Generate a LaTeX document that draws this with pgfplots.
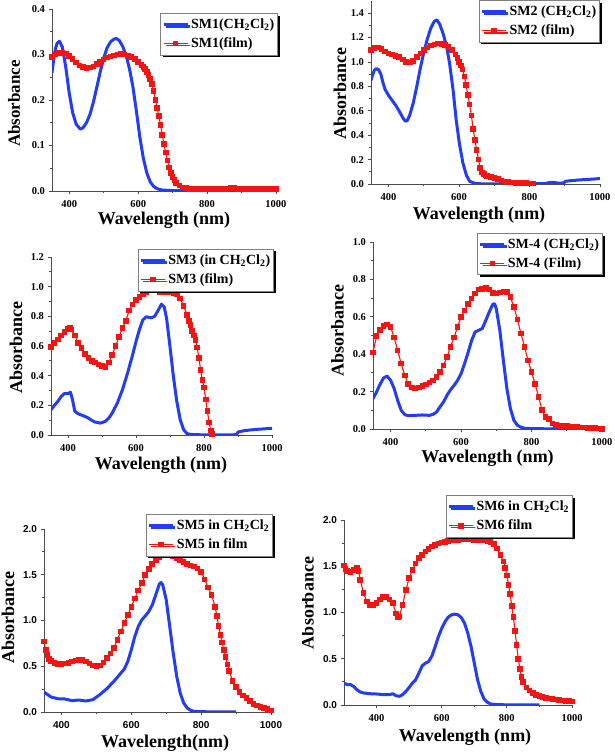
\documentclass[border=0pt]{standalone}
\usepackage{fontspec}
\setmainfont{Liberation Serif}
\newfontfamily\arialf{Liberation Sans}
\usepackage{pgfplots}
\pgfplotsset{compat=1.18}
\usetikzlibrary{shadows}
\definecolor{cblue}{RGB}{35,60,245}
\definecolor{cred}{RGB}{245,20,20}

\pgfplotsset{
  uvvis/.style={
    scale only axis, xmin=350, xmax=1000,
    axis x line*=bottom, axis y line*=left,
    axis line style={black!70, line width=0.8pt},
    tick style={black!70, line width=0.8pt},
    tick align=outside,
    major tick length=3.5pt, minor tick length=2pt,
    xtick={400,600,800,1000}, minor x tick num=1, minor y tick num=1,
    /pgf/number format/assume math mode=true,
    ticklabel style={font=\fontsize{10.5}{12}\selectfont\bfseries},
    yticklabel style={/pgf/number format/fixed, /pgf/number format/fixed zerofill, /pgf/number format/precision=1},
    xticklabel style={/pgf/number format/1000 sep={}, yshift=-2pt},
    legend cell align=left,
    legend style={font=\fontsize{14}{15}\selectfont\bfseries, draw=black!50, line width=0.6pt,
      fill=white, anchor=north east, inner xsep=1.5pt, inner ysep=3.5pt, row sep=4pt,
      drop shadow={fill=black, opacity=1, shadow xshift=2.2pt, shadow yshift=-2.2pt}},
    legend image code/.code={\draw[mark repeat=2, mark phase=2, #1] plot coordinates {(0pt,0pt) (12pt,0pt) (24pt,0pt)};},
  },
  sol/.style={cblue, line width=3pt, no marks, line join=round},
  flm/.style={cred, line width=1.1pt, mark=square*, mark size=2.3pt, mark options={solid, fill=cred, draw=cred, line width=0pt}},
}
\newcommand{\dcm}{CH\textsubscript{2}Cl\textsubscript{2}}

\begin{document}
\begin{tikzpicture}
% ---------- SM1 ----------
\begin{axis}[uvvis, at={(52pt,561pt)}, anchor=south west, width=224pt, height=182pt,
  ymin=0, ymax=0.4, ytick={0,0.1,0.2,0.3,0.4}, legend style={at={(1.009,0.978)}}]
\addplot[sol] coordinates {(350,0.26)(355,0.29)(360,0.313)(365,0.325)(372,0.329)(380,0.316)(390,0.272)(400,0.215)(410,0.172)(420,0.147)(432,0.136)(440,0.139)(450,0.150)(460,0.168)(470,0.195)(480,0.228)(490,0.262)(500,0.292)(510,0.315)(520,0.328)(530,0.334)(537,0.335)(545,0.331)(555,0.318)(565,0.298)(575,0.268)(585,0.228)(595,0.175)(605,0.118)(615,0.072)(625,0.040)(635,0.020)(645,0.010)(655,0.005)(670,0.002)(700,0.001)(800,0.001)};
\addlegendentry{SM1(\dcm)}
\addplot[flm] coordinates {(350,0.295)(360,0.300)(370,0.303)(380,0.304)(390,0.302)(400,0.297)(410,0.290)(420,0.282)(430,0.276)(440,0.272)(450,0.270)(460,0.271)(470,0.274)(480,0.279)(490,0.284)(500,0.289)(510,0.293)(520,0.296)(530,0.298)(540,0.300)(550,0.301)(560,0.300)(570,0.298)(580,0.295)(590,0.290)(600,0.284)(610,0.277)(615,0.273)(620,0.268)(625,0.262)(630,0.255)(635,0.246)(640,0.235)(645,0.220)(650,0.200)(655,0.182)(660,0.165)(665,0.145)(670,0.123)(675,0.103)(680,0.085)(685,0.067)(690,0.052)(695,0.040)(700,0.031)(705,0.024)(710,0.018)(720,0.012)(730,0.008)(740,0.006)(750,0.005)(760,0.005)(770,0.005)(780,0.005)(790,0.005)(800,0.005)(810,0.005)(820,0.005)(830,0.005)(840,0.005)(850,0.005)(860,0.005)(870,0.006)(880,0.007)(890,0.005)(900,0.005)(910,0.005)(920,0.005)(930,0.005)(940,0.005)(950,0.005)(960,0.004)(970,0.004)(980,0.004)(990,0.004)(1000,0.004)};
\addlegendentry{SM1(film)}
\end{axis}

% ---------- SM2 ----------
\begin{axis}[uvvis, at={(371pt,568pt)}, anchor=south west, width=229pt, height=183pt,
  ymin=0, ymax=1.5, ytick={0,0.2,0.4,0.6,0.8,1.0,1.2,1.4}, legend style={at={(1.0,1.005)}}]
\addplot[sol] coordinates {(350,0.85)(355,0.90)(360,0.935)(366,0.945)(372,0.935)(378,0.90)(384,0.83)(390,0.775)(400,0.725)(410,0.685)(420,0.645)(430,0.598)(440,0.545)(447,0.515)(453,0.52)(460,0.565)(470,0.665)(480,0.80)(490,0.95)(500,1.08)(510,1.19)(520,1.28)(530,1.335)(537,1.345)(545,1.31)(555,1.23)(565,1.12)(573,0.99)(583,0.77)(592,0.52)(601,0.33)(611,0.17)(621,0.07)(630,0.022)(645,0.005)(660,0.002)(700,0.001)(800,0.001)(845,0.004)(860,0.014)(870,0.012)(885,0.006)(898,0.01)(902,0.022)(920,0.028)(950,0.035)(980,0.040)(1000,0.045)};
\addlegendentry{SM2 (\dcm)}
\addplot[flm] coordinates {(350,1.10)(360,1.115)(370,1.12)(380,1.105)(390,1.085)(400,1.07)(410,1.06)(420,1.05)(430,1.04)(440,1.02)(450,1.00)(460,0.995)(470,1.01)(480,1.04)(490,1.07)(500,1.10)(510,1.12)(520,1.135)(530,1.145)(540,1.15)(550,1.148)(560,1.14)(570,1.125)(580,1.10)(590,1.06)(595,1.035)(600,1.00)(605,0.97)(610,0.94)(615,0.88)(620,0.81)(625,0.73)(630,0.65)(635,0.56)(640,0.45)(645,0.36)(650,0.28)(655,0.20)(660,0.13)(665,0.095)(670,0.08)(675,0.07)(680,0.065)(690,0.057)(700,0.05)(710,0.042)(720,0.03)(730,0.022)(740,0.015)(750,0.011)(760,0.009)(770,0.008)(780,0.007)(790,0.006)(800,0.005)(810,0.005)};
\addlegendentry{SM2 (film)}
\end{axis}

% ---------- SM3 ----------
\begin{axis}[uvvis, at={(51pt,317pt)}, anchor=south west, width=221pt, height=178pt,
  ymin=0, ymax=1.2, ytick={0,0.2,0.4,0.6,0.8,1.0,1.2}, legend style={at={(1.009,1.045)}}]
\addplot[sol] coordinates {(350,0.17)(360,0.20)(370,0.226)(380,0.26)(388,0.278)(395,0.28)(400,0.278)(407,0.289)(413,0.24)(420,0.16)(430,0.143)(440,0.134)(450,0.125)(460,0.114)(470,0.098)(480,0.087)(495,0.08)(510,0.092)(520,0.114)(530,0.148)(545,0.215)(560,0.304)(575,0.416)(590,0.54)(600,0.63)(610,0.71)(620,0.775)(630,0.797)(645,0.79)(655,0.80)(665,0.84)(675,0.882)(683,0.864)(690,0.786)(700,0.595)(710,0.394)(720,0.226)(730,0.103)(740,0.036)(750,0.009)(760,0.004)(780,0.002)(800,0.001)(850,0.0)(896,0.002)(900,0.02)(920,0.03)(950,0.037)(980,0.042)(1000,0.045)};
\addlegendentry{SM3 (in \dcm)}
\addplot[flm] coordinates {(350,0.595)(360,0.62)(370,0.645)(380,0.67)(390,0.695)(400,0.715)(405,0.72)(410,0.71)(420,0.67)(430,0.62)(440,0.585)(450,0.545)(460,0.52)(470,0.50)(480,0.49)(490,0.475)(500,0.465)(510,0.46)(520,0.49)(530,0.54)(540,0.60)(550,0.66)(560,0.72)(570,0.77)(580,0.84)(590,0.88)(600,0.91)(610,0.93)(620,0.95)(630,0.965)(640,0.985)(650,0.988)(660,0.975)(670,0.965)(680,0.96)(690,0.962)(700,0.963)(710,0.958)(720,0.95)(730,0.92)(740,0.87)(750,0.81)(755,0.77)(760,0.74)(765,0.70)(770,0.67)(775,0.64)(780,0.59)(785,0.52)(790,0.44)(795,0.37)(800,0.32)(805,0.24)(810,0.16)(815,0.085)(820,0.03)(824,0.005)};
\addlegendentry{SM3 (film)}
\end{axis}

% ---------- SM-4 ----------
\begin{axis}[uvvis, at={(373pt,323pt)}, anchor=south west, width=229pt, height=187pt,
  ymin=0, ymax=1.0, ytick={0,0.2,0.4,0.6,0.8,1.0}, legend style={at={(1.004,1.048)}}]
\addplot[sol] coordinates {(350,0.162)(360,0.198)(370,0.239)(380,0.273)(390,0.283)(400,0.26)(410,0.216)(420,0.153)(430,0.10)(440,0.077)(450,0.071)(470,0.073)(490,0.075)(510,0.073)(520,0.078)(530,0.09)(540,0.118)(550,0.144)(560,0.18)(570,0.21)(580,0.233)(590,0.26)(600,0.296)(610,0.35)(620,0.41)(630,0.474)(640,0.519)(650,0.528)(660,0.537)(670,0.58)(680,0.626)(690,0.667)(695,0.67)(700,0.643)(710,0.528)(720,0.367)(730,0.216)(740,0.109)(750,0.046)(760,0.02)(770,0.009)(780,0.004)(800,0.002)(850,0.001)(900,0.0)(1000,0.0)};
\addlegendentry{SM-4 (\dcm)}
\addplot[flm] coordinates {(350,0.41)(360,0.496)(370,0.528)(380,0.55)(390,0.558)(400,0.545)(410,0.49)(420,0.42)(430,0.35)(440,0.287)(450,0.242)(460,0.221)(470,0.216)(480,0.221)(490,0.23)(500,0.239)(510,0.248)(520,0.26)(530,0.278)(540,0.305)(550,0.34)(560,0.385)(570,0.44)(580,0.49)(590,0.545)(600,0.60)(610,0.634)(620,0.667)(630,0.697)(640,0.724)(650,0.745)(660,0.75)(670,0.754)(680,0.745)(690,0.727)(700,0.724)(710,0.729)(720,0.736)(730,0.732)(740,0.706)(750,0.652)(760,0.585)(770,0.51)(780,0.44)(790,0.367)(800,0.305)(810,0.242)(820,0.171)(830,0.10)(840,0.064)(850,0.053)(860,0.029)(870,0.02)(880,0.017)(890,0.016)(900,0.015)(910,0.013)(920,0.012)(930,0.011)(940,0.009)(950,0.008)(960,0.006)(970,0.005)(980,0.004)(990,0.002)(1000,0.0)};
\addlegendentry{SM-4 (Film)}
\end{axis}

% ---------- SM5 ----------
\begin{axis}[uvvis, at={(44pt,40pt)}, anchor=south west, width=227pt, height=183pt,
  ymin=0, ymax=2.0, ytick={0,0.5,1.0,1.5,2.0},
  ticklabel style={font=\fontsize{10}{12}\selectfont\arialf\bfseries},
  legend style={at={(1.009,1.082)}}]
\addplot[sol] coordinates {(350,0.218)(370,0.164)(390,0.145)(410,0.142)(430,0.124)(450,0.131)(470,0.12)(490,0.135)(510,0.19)(530,0.255)(550,0.335)(570,0.425)(580,0.47)(590,0.553)(600,0.68)(610,0.825)(620,0.935)(630,1.007)(640,1.05)(650,1.098)(660,1.17)(670,1.28)(680,1.396)(685,1.415)(690,1.39)(700,1.225)(710,0.935)(720,0.644)(730,0.39)(740,0.207)(750,0.098)(760,0.044)(770,0.018)(780,0.007)(800,0.003)(850,0.002)(900,0.0)};
\addlegendentry{SM5 in \dcm}
\addplot[flm] coordinates {(350,0.77)(355,0.68)(360,0.62)(365,0.58)(370,0.555)(380,0.535)(390,0.525)(400,0.522)(410,0.528)(420,0.538)(430,0.55)(440,0.562)(450,0.57)(460,0.568)(470,0.552)(480,0.53)(490,0.51)(500,0.50)(510,0.51)(520,0.54)(530,0.59)(540,0.64)(550,0.70)(560,0.79)(570,0.88)(580,0.97)(590,1.06)(600,1.15)(610,1.24)(620,1.33)(630,1.41)(640,1.50)(650,1.56)(660,1.62)(670,1.66)(680,1.69)(690,1.71)(700,1.72)(710,1.71)(720,1.70)(730,1.68)(740,1.66)(750,1.64)(760,1.62)(770,1.60)(780,1.59)(790,1.57)(800,1.53)(810,1.45)(820,1.36)(830,1.28)(840,1.15)(845,1.05)(850,0.94)(855,0.84)(860,0.76)(865,0.68)(870,0.60)(875,0.52)(880,0.45)(890,0.34)(900,0.27)(910,0.22)(920,0.18)(930,0.15)(940,0.12)(950,0.09)(960,0.07)(970,0.055)(980,0.045)(990,0.03)(1000,0.018)};
\addlegendentry{SM5 in film}
\end{axis}

% ---------- SM6 ----------
\begin{axis}[uvvis, at={(344pt,47pt)}, anchor=south west, width=228pt, height=185pt,
  xmin=300, ymin=0, ymax=2.0, ytick={0,0.5,1.0,1.5,2.0},
  yticklabel style={font=\fontsize{10}{12}\selectfont\arialf\bfseries},
  legend style={at={(1.004,1.135)}}]
\addplot[sol] coordinates {(300,0.237)(310,0.22)(320,0.22)(330,0.20)(340,0.165)(350,0.14)(360,0.13)(380,0.122)(400,0.119)(420,0.112)(440,0.112)(450,0.122)(460,0.10)(470,0.094)(480,0.112)(490,0.147)(500,0.19)(510,0.237)(520,0.273)(530,0.345)(540,0.424)(550,0.453)(560,0.47)(570,0.53)(580,0.633)(590,0.74)(600,0.83)(610,0.90)(620,0.95)(630,0.975)(640,0.982)(650,0.975)(660,0.946)(670,0.885)(680,0.777)(690,0.633)(700,0.453)(710,0.273)(720,0.147)(730,0.065)(740,0.029)(750,0.011)(770,0.004)(800,0.002)(900,0.0)};
\addlegendentry{SM6 in \dcm}
\addplot[flm] coordinates {(300,1.51)(305,1.47)(310,1.45)(320,1.44)(330,1.46)(340,1.478)(345,1.45)(350,1.35)(360,1.21)(370,1.12)(380,1.083)(390,1.083)(400,1.10)(410,1.14)(420,1.165)(430,1.165)(440,1.14)(450,1.10)(460,0.99)(465,0.95)(470,0.957)(480,1.083)(490,1.245)(500,1.37)(510,1.46)(520,1.53)(530,1.586)(540,1.62)(550,1.658)(560,1.687)(570,1.712)(580,1.73)(590,1.745)(600,1.755)(610,1.765)(620,1.773)(630,1.78)(640,1.784)(650,1.787)(660,1.79)(670,1.79)(680,1.79)(690,1.788)(700,1.784)(710,1.784)(720,1.784)(730,1.78)(740,1.773)(750,1.76)(760,1.74)(770,1.694)(780,1.622)(790,1.55)(795,1.48)(800,1.40)(805,1.30)(810,1.20)(815,1.07)(820,0.95)(825,0.80)(830,0.65)(835,0.50)(840,0.39)(845,0.30)(850,0.25)(860,0.19)(870,0.155)(880,0.13)(890,0.11)(900,0.095)(910,0.085)(920,0.078)(930,0.07)(940,0.065)(950,0.06)(960,0.055)(970,0.05)(980,0.045)(990,0.04)(1000,0.036)};
\addlegendentry{SM6 film}
\end{axis}

% axis titles
\begin{scope}[every node/.style={font=\fontsize{18}{18}\selectfont\bfseries, inner sep=0pt}]
\node[rotate=90, font=\fontsize{17}{17}\selectfont\bfseries] at (14pt,648.5pt) {Absorbance};
\node[anchor=base] at (164pt,527pt) {Wavelength (nm)};
\node[rotate=90] at (340pt,658pt) {Absorbance};
\node[anchor=base] at (479pt,532pt) {Wavelength (nm)};
\node[rotate=90] at (16pt,404.5pt) {Absorbance};
\node[anchor=base] at (161pt,282pt) {Wavelength (nm)};
\node[rotate=90] at (337.5pt,421.5pt) {Absorbance};
\node[anchor=base] at (487.5pt,289pt) {Wavelength (nm)};
\node[rotate=90] at (8pt,134.5pt) {Absorbance};
\node[anchor=base] at (165pt,5pt) {Wavelength(nm)};
\node[rotate=90] at (307.5pt,149pt) {Absorbance};
\node[anchor=base] at (465pt,10pt) {Wavelength (nm)};
\end{scope}
\fill[white] (285pt,0pt) rectangle (302pt,262pt);

\pgfresetboundingbox
\path[use as bounding box] (0pt,0pt) rectangle (614pt,752pt);
\end{tikzpicture}
\end{document}
